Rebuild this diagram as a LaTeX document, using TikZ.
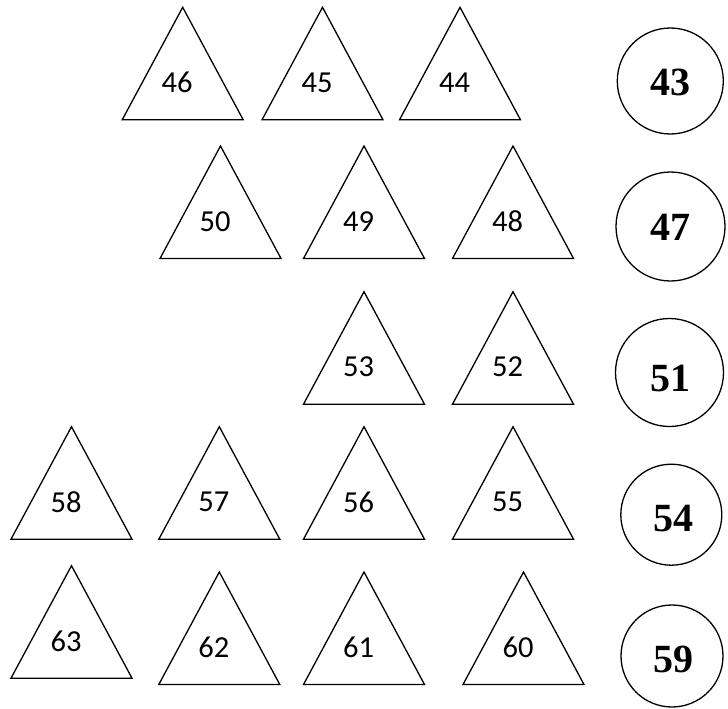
\documentclass[tikz,border=0pt]{standalone}
\usepackage{fontspec}
\setmainfont{Liberation Serif}
\newfontfamily\trifont{Carlito}
\tikzset{
  tri/.style={draw=black, line width=1.3pt, line join=miter},
  trilabel/.style={inner sep=0pt, font=\trifont\fontsize{30.5}{32}\selectfont},
  circ/.style={draw=black, line width=1.3pt, circle, inner sep=0pt},
  circlabel/.style={inner sep=0pt, font=\bfseries\fontsize{40}{44}\selectfont}
}
\begin{document}
\begin{tikzpicture}[x=1pt,y=-1pt]
\useasboundingbox (0,0) rectangle (728,709);
% triangles: apex x, apex y, label
\foreach \ax/\ay/\lab in {182.7/7.3/46, 322.5/7.3/45, 460/7.3/44,
                          220.5/146/50, 364/146/49, 513/146/48,
                          364/291.7/53, 513/291.7/52,
                          71.5/426.7/58, 219.3/426.7/57, 364/426.7/56, 513/426.7/55,
                          71.5/565.7/63, 219.3/572/62, 364/572/61, 523.5/572/60}{
  \draw[tri] (\ax,\ay) -- (\ax+60.5,\ay+112.5) -- (\ax-60.5,\ay+112.5) -- cycle;
  \node[trilabel] (t\lab) at (\ax-5.5,\ay+75.5) {\lab};
}
% circles
\node[circ, minimum size=106pt] (c43) at (670.3,81) {};
\node[circlabel] (n43) at (670,82) {43};
\node[circ, minimum size=109pt] (c47) at (670.5,226.5) {};
\node[circlabel] (n47) at (670,227) {47};
\node[circ, minimum size=108pt] (c51) at (669.5,372.5) {};
\node[circlabel] (n51) at (670,378) {51};
\node[circ, minimum size=101pt] (c54) at (671.3,514.7) {};
\node[circlabel] (n54) at (673,519) {54};
\node[circ, minimum size=102pt] (c59) at (672,656) {};
\node[circlabel] (n59) at (673,659) {59};
\end{tikzpicture}
\end{document}
